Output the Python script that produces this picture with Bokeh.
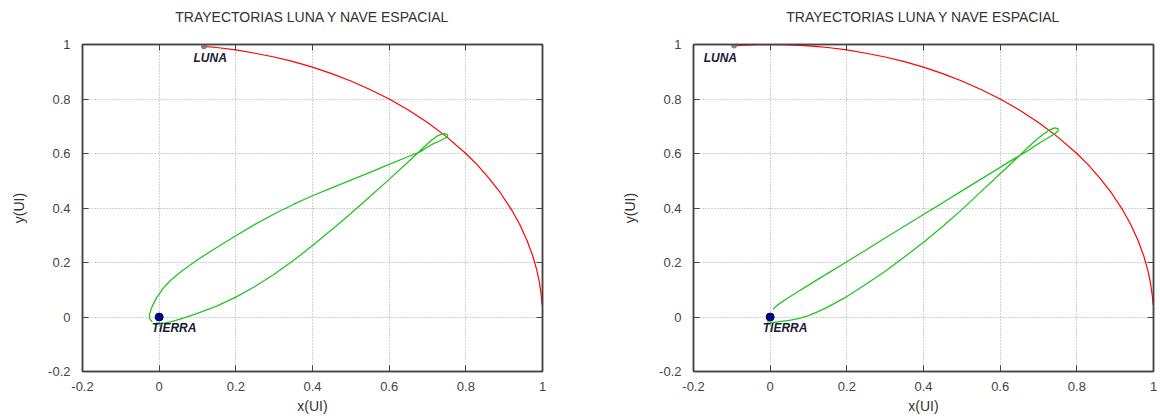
from bokeh.plotting import figure
from bokeh.layouts import row
from bokeh.models import FixedTicker, Range1d, LinearAxis
from bokeh.core.properties import value
from bokeh.embed import file_html
from bokeh.resources import INLINE

TITLE = "TRAYECTORIAS LUNA Y NAVE ESPACIAL"
ticks = [-0.2, 0, 0.2, 0.4, 0.6, 0.8, 1]
tick_labels = ["-0.2", "0", "0.2", "0.4", "0.6", "0.8", "1"]

# Panel 1 (left): spacecraft trajectory
ship1_x = [-0.008, 0.01, 0.03, 0.063, 0.1, 0.15, 0.2, 0.25, 0.3, 0.35, 0.4, 0.45, 0.5, 0.55, 0.6, 0.65,
           0.682, 0.705, 0.725, 0.74, 0.751, 0.753, 0.745, 0.73, 0.716, 0.70, 0.682, 0.65, 0.6, 0.55,
           0.5, 0.45, 0.4, 0.35, 0.3, 0.25, 0.2, 0.15, 0.1, 0.06, 0.03, 0.01, -0.006, -0.018, -0.025,
           -0.025, -0.018]
ship1_y = [-0.023, -0.023, -0.018, -0.004, 0.013, 0.040, 0.073, 0.112, 0.157, 0.207, 0.262, 0.32, 0.38,
           0.442, 0.505, 0.57, 0.612, 0.642, 0.664, 0.673, 0.671, 0.664, 0.655, 0.645, 0.636, 0.624, 0.607,
           0.589, 0.56, 0.531, 0.502, 0.474, 0.445, 0.413, 0.378, 0.34, 0.298, 0.255, 0.21, 0.17, 0.135,
           0.105, 0.072, 0.04, 0.012, -0.006, -0.018]
# Panel 1: moon orbit
moon1_x = [0.117, 0.15, 0.2, 0.25, 0.3, 0.35, 0.4, 0.45, 0.5, 0.55, 0.6, 0.65, 0.7, 0.75, 0.8, 0.83, 0.86,
           0.89, 0.92, 0.94, 0.96, 0.975, 0.985, 0.992, 0.997, 0.999]
moon1_y = [0.993, 0.989, 0.980, 0.968, 0.954, 0.937, 0.917, 0.893, 0.866, 0.835, 0.800, 0.760, 0.714, 0.661,
           0.600, 0.558, 0.510, 0.456, 0.392, 0.341, 0.280, 0.222, 0.173, 0.126, 0.077, 0.045]
luna1_pos = ([0.117], [0.993])
luna1_label = ([0.133], [0.949])

# Panel 2 (right): spacecraft trajectory
ship2_x = [-0.008, 0.01, 0.029, 0.05, 0.076, 0.1, 0.125, 0.15, 0.2, 0.25, 0.3, 0.35, 0.4, 0.45, 0.5, 0.55,
           0.6, 0.651, 0.67, 0.69, 0.71, 0.728, 0.742, 0.751, 0.751, 0.742, 0.725, 0.708, 0.69, 0.673,
           0.651, 0.625, 0.6, 0.55, 0.5, 0.45, 0.4, 0.35, 0.3, 0.25, 0.2, 0.15, 0.1, 0.07, 0.045, 0.025,
           0.013, 0.008]
ship2_y = [-0.018, -0.02, -0.016, -0.012, -0.005, 0.005, 0.02, 0.036, 0.075, 0.12, 0.168, 0.22, 0.274,
           0.332, 0.394, 0.46, 0.526, 0.593, 0.619, 0.645, 0.668, 0.686, 0.694, 0.691, 0.682, 0.672,
           0.658, 0.643, 0.627, 0.611, 0.593, 0.571, 0.549, 0.506, 0.463, 0.419, 0.376, 0.333, 0.29, 0.246,
           0.203, 0.16, 0.117, 0.091, 0.069, 0.05, 0.037, 0.028]
# Panel 2: moon orbit
moon2_x = [-0.094, -0.06, -0.03, 0.0, 0.03, 0.06, 0.09, 0.117, 0.15, 0.2, 0.25, 0.3, 0.35, 0.4, 0.45, 0.5,
           0.55, 0.6, 0.65, 0.7, 0.75, 0.8, 0.83, 0.86, 0.89, 0.92, 0.94, 0.96, 0.975, 0.985, 0.992, 0.997,
           0.999]
moon2_y = [0.996, 0.998, 0.9995, 1.0, 0.9995, 0.998, 0.996, 0.993, 0.989, 0.980, 0.968, 0.954, 0.937, 0.917,
           0.893, 0.866, 0.835, 0.800, 0.760, 0.714, 0.661, 0.600, 0.558, 0.510, 0.456, 0.392, 0.341,
           0.280, 0.222, 0.173, 0.126, 0.077, 0.045]
luna2_pos = ([-0.094], [0.996])
luna2_label = ([-0.13], [0.952])

earth_pos = ([0], [0])
tierra_label = ([0.039], [-0.039])

FONT = "Liberation Sans"


def panel(bl, br, sx, sy, mx, my, lpos, llab):
    p = figure(frame_width=460, frame_height=327, x_range=Range1d(-0.2, 1), y_range=Range1d(-0.2, 1),
               output_backend="svg", toolbar_location=None,
               min_border_left=bl, min_border_right=br, min_border_top=44, min_border_bottom=45,
               title=TITLE, x_axis_label="x(UI)", y_axis_label="y(UI)")
    p.add_layout(LinearAxis(), "above")
    p.add_layout(LinearAxis(), "right")
    p.title.align = "center"
    p.title.vertical_align = "bottom"
    p.title.standoff = 4
    p.title.text_font = FONT
    p.title.text_font_size = "14px"
    p.title.text_font_style = "normal"
    p.title.text_color = "#333333"
    p.outline_line_color = "#444444"
    p.outline_line_width = 1.5
    p.outline_line_alpha = 1
    overrides = {t: l for t, l in zip(ticks, tick_labels)}
    for ax in p.xaxis + p.yaxis:
        ax.ticker = FixedTicker(ticks=ticks)
        ax.major_label_overrides = overrides
        ax.minor_tick_line_color = None
        ax.major_tick_in = 6
        ax.major_tick_out = 0
        ax.major_tick_line_color = "#444444"
        ax.axis_line_color = "#444444"
        ax.axis_line_width = 1.5
        ax.major_label_text_font = FONT
        ax.major_label_text_font_size = "13px"
        ax.major_label_text_color = "#444444"
        ax.axis_label_text_font = FONT
        ax.axis_label_text_font_size = "14px"
        ax.axis_label_text_font_style = "normal"
        ax.axis_label_text_color = "#333333"
    for ax in (p.above[-1], p.right[-1]):
        ax.major_label_text_color = None
        ax.major_label_standoff = 2
    # invisible spacer between the frame and the title
    spacer = LinearAxis(ticker=FixedTicker(ticks=ticks), major_tick_in=0, major_tick_out=18,
                        major_tick_line_color=None, minor_tick_line_color=None, axis_line_color=None,
                        major_label_text_color=None, major_label_standoff=0)
    p.add_layout(spacer, "above")
    p.below[0].major_label_standoff = 10
    p.below[0].axis_label_standoff = 4
    p.left[0].major_label_standoff = 12
    p.left[0].axis_label_standoff = 18
    p.grid.grid_line_color = "#a0a0a0"
    p.grid.grid_line_dash = "1 2"
    p.grid.grid_line_width = 1

    p.line(mx, my, line_color="#ff0000", line_width=1.2)
    p.line(sx, sy, line_color="#22c422", line_width=1.3)
    p.scatter(lpos[0], lpos[1], size=5, color="#808080")
    p.scatter(earth_pos[0], earth_pos[1], size=8, color="#000080")
    p.text(llab[0], llab[1], text=["LUNA"], text_font=value(FONT), text_font_size=value("12px"),
           text_font_style="bold italic", text_align="center", text_baseline="middle", text_color="#1a1a33")
    p.text(tierra_label[0], tierra_label[1], text=["TIERRA"], text_font=value(FONT),
           text_font_size=value("12px"), text_font_style="bold italic", text_align="center",
           text_baseline="middle", text_color="#1a1a33")
    return p


p1 = panel(82, 58, ship1_x, ship1_y, moon1_x, moon1_y, luna1_pos, luna1_label)
p2 = panel(93, 7, ship2_x, ship2_y, moon2_x, moon2_y, luna2_pos, luna2_label)
layout = row(p1, p2)
open("out.html", "w").write(file_html(layout, INLINE))
